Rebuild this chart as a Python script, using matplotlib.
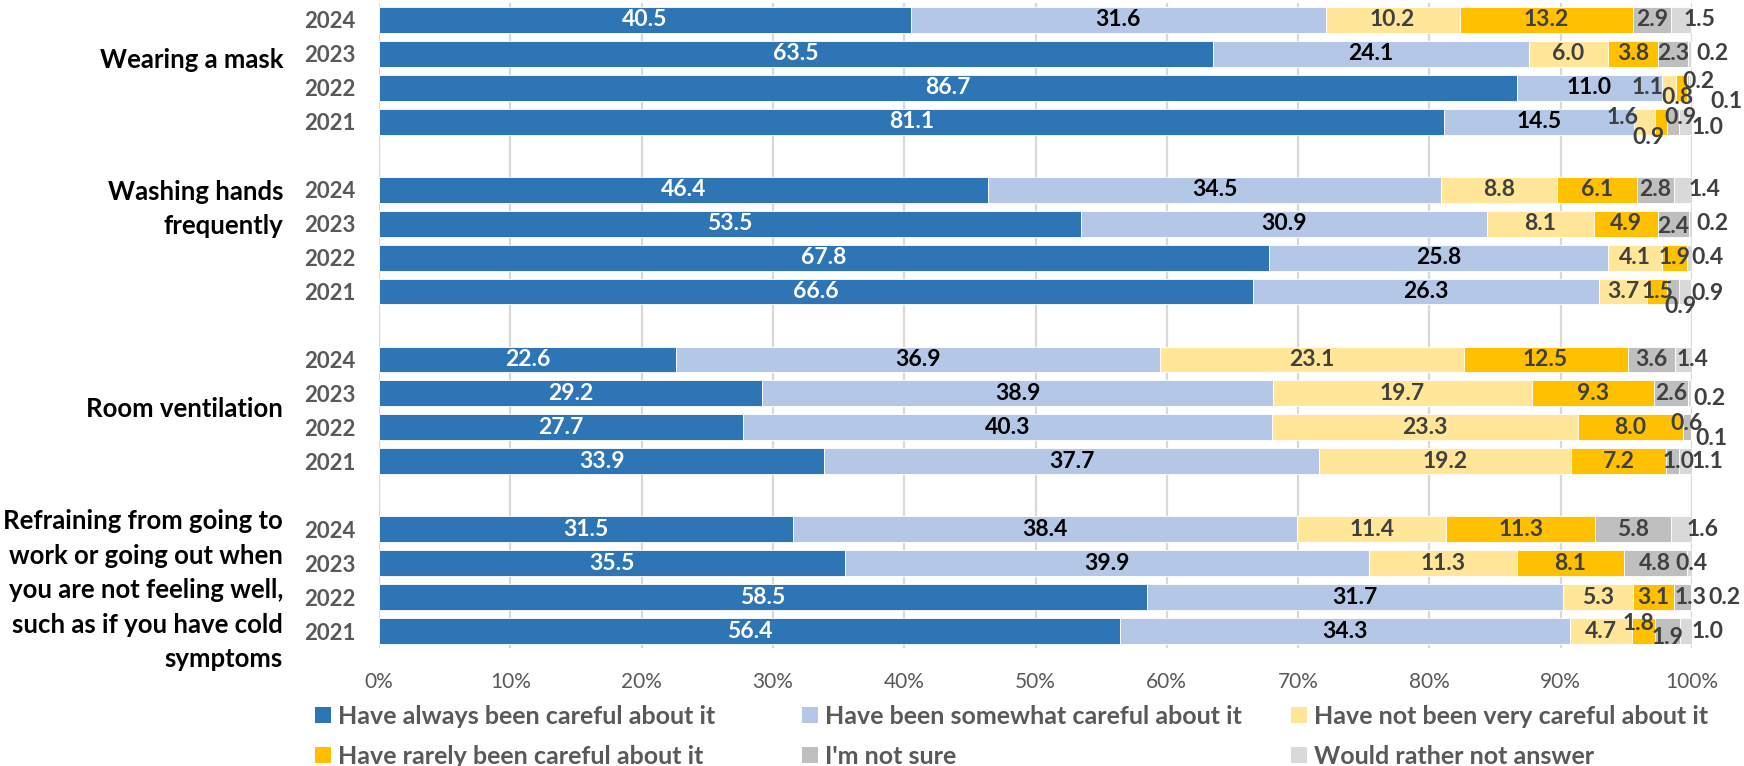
import matplotlib
matplotlib.use('Agg')
import matplotlib.pyplot as plt
from matplotlib.patches import Patch
import numpy as np

plt.rcParams['font.family'] = ['Lato', 'DejaVu Sans']

# ---------------- data ----------------
groups = ["Wearing a mask",
          "Washing hands\nfrequently",
          "Room ventilation",
          "Refraining from going to\nwork or going out when\nyou are not feeling well,\nsuch as if you have cold\nsymptoms"]
years = ["2024", "2023", "2022", "2021"]
series_names = ["Have always been careful about it",
                "Have been somewhat careful about it",
                "Have not been very careful about it",
                "Have rarely been careful about it",
                "I'm not sure",
                "Would rather not answer"]

always   = [[40.5, 63.5, 86.7, 81.1], [46.4, 53.5, 67.8, 66.6], [22.6, 29.2, 27.7, 33.9], [31.5, 35.5, 58.5, 56.4]]
somewhat = [[31.6, 24.1, 11.0, 14.5], [34.5, 30.9, 25.8, 26.3], [36.9, 38.9, 40.3, 37.7], [38.4, 39.9, 31.7, 34.3]]
notvery  = [[10.2, 6.0, 1.1, 1.6], [8.8, 8.1, 4.1, 3.7], [23.1, 19.7, 23.3, 19.2], [11.4, 11.3, 5.3, 4.7]]
rarely   = [[13.2, 3.8, 0.8, 0.9], [6.1, 4.9, 1.9, 1.5], [12.5, 9.3, 8.0, 7.2], [11.3, 8.1, 3.1, 1.8]]
notsure  = [[2.9, 2.3, 0.2, 0.9], [2.8, 2.4, 0.0, 0.9], [3.6, 2.6, 0.6, 1.0], [5.8, 4.8, 1.3, 1.9]]
rather   = [[1.5, 0.2, 0.1, 1.0], [1.4, 0.2, 0.4, 0.9], [1.4, 0.2, 0.1, 1.1], [1.6, 0.4, 0.2, 1.0]]

# ---------------- style ----------------
colors = ["#2E75B6", "#B4C7E7", "#FFE699", "#FFC000", "#BFBFBF", "#D9D9D9"]
label_colors = ["white", "black", "#404040", "#404040", "#404040", "#404040"]
# label nudges in pixels (dx right, dy down) keyed by (group, year index, series index)
nudges = {
    (0, 0, 5): (-8, 0), (0, 1, 5): (5, 0),
    (0, 2, 2): (-22, 0), (0, 2, 3): (-4, 10), (0, 2, 4): (10, -6), (0, 2, 5): (19, 14),
    (0, 3, 2): (-22, -4), (0, 3, 3): (-13, 16), (0, 3, 4): (7, -4), (0, 3, 5): (0, 6),
    (1, 0, 5): (-3, 0), (1, 1, 4): (0, 3), (1, 1, 5): (5, 0),
    (1, 3, 4): (7, 15), (1, 3, 5): (0, 2),
    (2, 0, 5): (-15, 0), (2, 1, 5): (2, 5), (2, 2, 4): (0, -4), (2, 2, 5): (4, 11), (2, 3, 4): (6, 0),
    (3, 0, 5): (-5, 0), (3, 1, 5): (-16, 0), (3, 2, 4): (8, 0), (3, 2, 5): (17, 0),
    (3, 3, 3): (-5, -8), (3, 3, 4): (0, 6),
}
cat_nudge = [-0.32, -0.93, -0.04, 0.3]   # vertical nudges of group labels (in slot units)

W, H = 1744, 766
fig = plt.figure(figsize=(W / 100, H / 100), dpi=100)
ax = fig.add_axes([379 / W, 1 - 648 / H, (1692 - 379) / W, (648 - 3) / H])

data = [always, somewhat, notvery, rarely, notsure, rather]
ypos = [g * 5 + i for g in range(len(groups)) for i in range(len(years))]
lefts = np.zeros(len(ypos))
for s, (vals, col) in enumerate(zip(data, colors)):
    flat = np.array([v for grp in vals for v in grp])
    ax.barh(ypos, flat, left=lefts, height=0.76, color=col,
            edgecolor='white', linewidth=0.6, zorder=2)
    for k, (y, v, l) in enumerate(zip(ypos, flat, lefts)):
        if v <= 0:
            continue
        g, i = divmod(k, len(years))
        x = 101.2 if s == 5 else l + v / 2
        dx, dy = nudges.get((g, i, s), (0, 0))
        ax.annotate(f"{v:.1f}", xy=(x, y), xytext=(dx * 0.72, -dy * 0.72),
                    textcoords='offset points', ha='center', va='center',
                    fontsize=16.5, fontweight='bold', color=label_colors[s],
                    annotation_clip=False, zorder=5)
    lefts = lefts + flat

ax.set_xlim(0, 100)
ax.set_ylim(18.5, -0.5)
ax.set_xticks(np.arange(0, 101, 10))
ax.set_xticklabels([f"{t}%" for t in range(0, 101, 10)], fontsize=15, color="#595959")
ax.set_yticks(ypos)
ax.set_yticklabels(years * len(groups), fontsize=16, fontweight='bold', color="#595959")
ax.tick_params(axis='x', length=0, pad=17)
ax.tick_params(axis='y', length=0, pad=17)
ax.grid(axis='x', color='#D9D9D9', linewidth=1.6, zorder=0)
ax.set_axisbelow(True)
for sp in ax.spines.values():
    sp.set_visible(False)

for g, name in enumerate(groups):
    yc = g * 5 + 1.5 + cat_nudge[g]
    ax.annotate(name, xy=(0, yc), xycoords=('axes fraction', 'data'),
                xytext=(-96 * 0.72, 0), textcoords='offset points',
                ha='right', va='center', multialignment='right',
                fontsize=18.5, fontweight='bold', color='black', linespacing=1.52)

# legend: three columns of two entries
handles = [Patch(facecolor=c, edgecolor='none') for c in colors]
cols = [(0, 3), (1, 4), (2, 5)]
col_x = [315, 802, 1291]
for (a, b), x in zip(cols, col_x):
    leg = fig.legend([handles[a], handles[b]], [series_names[a], series_names[b]],
                     loc='upper left', bbox_to_anchor=(x / W, 1 - 705 / H),
                     frameon=False, ncol=1, borderpad=0, borderaxespad=0,
                     handlelength=0.62, handleheight=0.62, handletextpad=0.3,
                     labelspacing=0.68,
                     prop={'size': 18, 'weight': 'bold'})
    for t in leg.get_texts():
        t.set_color('#595959')

fig.savefig("out.png", dpi=100)
